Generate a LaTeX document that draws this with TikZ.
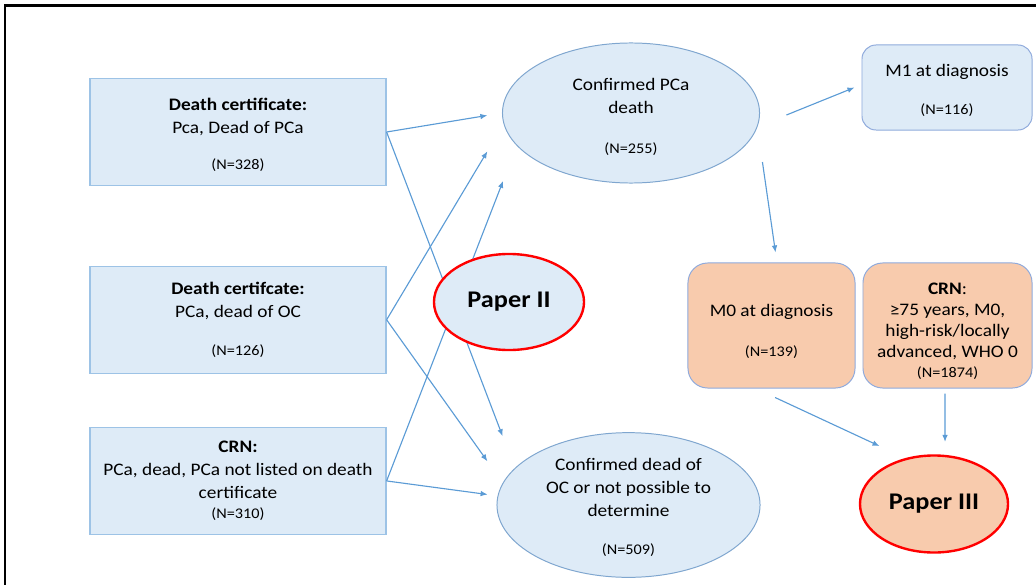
\documentclass[tikz,border=0pt]{standalone}
\usepackage{fontspec}
\setmainfont{Carlito}[FakeStretch=1.1]
\usetikzlibrary{arrows.meta,positioning,shapes.geometric}
\definecolor{boxfill}{HTML}{DEEBF7}
\definecolor{boxline}{HTML}{9DC3E6}
\definecolor{ovalline}{HTML}{7FA6CF}
\definecolor{flowblue}{HTML}{5B9BD5}
\definecolor{cohortfill}{HTML}{F8CBAD}
\definecolor{cohortline}{HTML}{8FAADC}
\definecolor{paperred}{HTML}{FF0000}
\newcommand{\ncount}[1]{{\fontsize{10.5}{12}\selectfont #1}}
\newcommand{\lift}[1]{\rule{0pt}{#1}}
\tikzset{
  srcbox/.style={draw=boxline, line width=0.8pt, fill=boxfill, align=center,
                 minimum width=7.4cm, minimum height=2.675cm,
                 font=\fontsize{12.5}{16.4}\selectfont},
  stageoval/.style={ellipse, draw=ovalline, line width=0.7pt, fill=boxfill,
                    align=center, inner sep=0pt, minimum height=3.5cm,
                    font=\fontsize{12.5}{16.4}\selectfont},
  paperoval/.style={ellipse, draw=paperred, line width=1.7pt, align=center,
                    inner sep=0pt, font=\fontsize{17}{20}\selectfont\bfseries},
  diagbox/.style={draw=cohortline, line width=0.7pt, fill=boxfill,
                  rounded corners=10pt, align=center,
                  minimum width=4.25cm, minimum height=2.125cm,
                  font=\fontsize{12.5}{16.4}\selectfont},
  cohortbox/.style={draw=cohortline, line width=0.7pt, fill=cohortfill,
                    rounded corners=14pt, align=center,
                    minimum width=4.175cm, minimum height=3.125cm,
                    font=\fontsize{12.5}{16.4}\selectfont},
  flowarrow/.style={-{Latex[length=5pt,width=4pt]}, draw=flowblue,
                    line width=0.8pt}
}

\begin{document}
\begin{tikzpicture}[x=0.025cm, y=-0.025cm]
  \useasboundingbox (0,0) rectangle (1036,584);
  \clip (0,0) rectangle (1036,584);
  \draw[line width=1.6pt] (5,5.5) rectangle (1060,610);

  % sources
  \node[srcbox] (dcA) at (238,132)
    {\lift{12.5pt}\textbf{Death certificate:}\\Pca, Dead of PCa\\[9.2pt]\ncount{(N=328)}};
  \node[srcbox, below=1.99cm of dcA] (dcB)
    {\textbf{Death certifcate:}\\PCa, dead of OC\\[11pt]\ncount{(N=126)}};
  \node[srcbox, below=1.325cm of dcB] (crnL)
    {\textbf{CRN:}\\PCa, dead, PCa not listed on death\\certificate\\[-2pt]\ncount{(N=310)}};

  % outcomes
  \node[stageoval, minimum width=6.425cm] (conf) at (631,113)
    {\lift{14.5pt}Confirmed PCa\\death\\[12pt]\ncount{(N=255)}};
  \node[stageoval, minimum width=6.575cm] (ocE) at (628.5,505)
    {\lift{11.5pt}Confirmed dead of\\OC or not possible to\\determine\\[10.6pt]\ncount{(N=509)}};

  % diagnosis and cohorts
  \node[diagbox] (m1) at (947,87.5)
    {\lift{13pt}M1 at diagnosis\\[10.6pt]\ncount{(N=116)}};
  \node[cohortbox] (m0) at (771.5,325.5)
    {\lift{17.5pt}M0 at diagnosis\\[12pt]\ncount{(N=139)}};
  \node[cohortbox, minimum width=4.225cm, font=\fontsize{12.5}{15}\selectfont] (crnR) at (947.5,325.5)
    {\lift{16pt}\textbf{CRN}:\\≥75 years, M0,\\high-risk/locally\\advanced, WHO 0\\[-0.8pt]\ncount{(N=1874)}};
  \node[paperoval, fill=cohortfill, minimum width=3.7cm, minimum height=2.425cm] (p3) at (934,504) {Paper III};

  % connectors
  \draw[flowarrow, shorten >=0.37cm] (dcA.east) -- (conf.west);
  \draw[flowarrow, shorten >=0.85cm] (dcA.east) -- (ocE.162);
  \draw[flowarrow, shorten >=0.79cm] (dcB.east) -- (conf.185);
  \draw[flowarrow, shorten >=0.66cm] (dcB.east) -- (ocE.170);
  \draw[flowarrow, shorten >=0.94cm] (crnL.east) -- (conf.196);
  \draw[flowarrow, shorten >=0.25cm] (crnL.east) -- (ocE.176);
  \draw[flowarrow] ([xshift=0.66cm, yshift=-0.05cm]conf.east) -- ([xshift=-0.175cm]m1.west);
  \draw[flowarrow] ([xshift=0.06cm, yshift=-1.225cm]conf.east) -- ([xshift=0.1cm, yshift=0.25cm]m0.north);
  \draw[flowarrow, shorten >=0.71cm] ([xshift=0.09cm, yshift=-0.225cm]m0.south) -- (p3.122);
  \draw[flowarrow, shorten >=0.31cm] ([xshift=-0.0625cm, yshift=-0.125cm]crnR.south) -- ([xshift=0.275cm]p3.north);

  % paper II sits over the crossing lines
  \node[paperoval, fill=boxfill, minimum width=3.75cm, minimum height=2.4cm] (p2) at (509,302) {Paper II};
\end{tikzpicture}
\end{document}
